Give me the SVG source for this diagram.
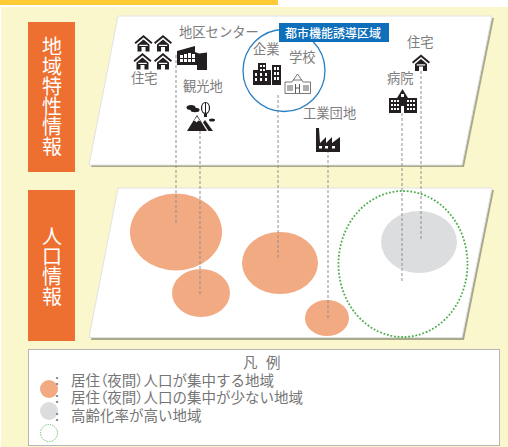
<svg xmlns="http://www.w3.org/2000/svg" width="508" height="447" viewBox="0 0 508 447">
<style>
text{font-family:"Noto Sans CJK JP","Liberation Sans",sans-serif}
.l{font-size:13.300px;fill:#7d7d7d}
.g{font-size:14.500px;fill:#757575}
.p{font-feature-settings:"palt"}
.t{font-size:20px;fill:#fff;writing-mode:vertical-rl}
.e{fill:#f2aa82}
.d{stroke:#8f8f8f;stroke-width:1;stroke-dasharray:3 2;fill:none}
.k{fill:#231f20}
.w{fill:#fff}
</style>
<defs>
<g id="house">
<path class="k" d="M0 7.500L9 0L18 7.500L16.800 9L9 2.500L1.200 9Z"/>
<path class="k" d="M3 9.500L9 4.500L15 9.500V16.500H11V12H7V16.500H3Z"/>
<rect class="w" x="4.800" y="9.800" width="8.400" height="1.200"/>
</g>
</defs>
<rect x="1" y="7" width="507" height="440" fill="#fbf7cd"/>
<rect x="0" y="0" width="278" height="5" fill="#ffca36"/>

<g id="panel-area">
<path d="M120 18H494L464 167H91Z" fill="#a9a98c"/>
<path d="M118 16H492L462 165H89Z" fill="#fff" stroke="#e2e2e2"/>
</g>
<g id="panel-population">
<path d="M120 190H494L464 340H91Z" fill="#a9a98c"/>
<path d="M118 188H492L462 337.500H89Z" fill="#fff" stroke="#e2e2e2"/>
</g>

<g id="title-area">
<rect x="28" y="22" width="47" height="150" fill="#ee7031"/>
<text class="t" x="52" y="36">地域特性情報</text>
</g>
<g id="title-population">
<rect x="28" y="190" width="47" height="151" fill="#ee7031"/>
<text class="t" x="52" y="226">人口情報</text>
</g>

<g id="region-1"><ellipse class="e" cx="176" cy="232" rx="46" ry="38.500"/></g>
<g id="region-2"><ellipse class="e" cx="201" cy="293" rx="29" ry="24"/></g>
<g id="region-3"><ellipse class="e" cx="280" cy="263" rx="38" ry="31"/></g>
<g id="region-4"><ellipse class="e" cx="327" cy="318" rx="22" ry="18"/></g>
<g id="region-gray"><ellipse cx="419" cy="242" rx="38" ry="31" fill="#dcddde"/></g>
<g id="region-green"><ellipse cx="403" cy="264" rx="64.500" ry="73" fill="none" stroke="#4fae4f" stroke-width="1.800" stroke-dasharray="1.800 1.800"/></g>

<g id="connectors">
<path class="d" d="M176 55V223"/>
<path class="d" d="M200 131V296"/>
<path class="d" d="M278 95V258"/>
<path class="d" d="M328 150V318"/>
<path class="d" d="M402 113V282"/>
<path class="d" d="M421 71V239"/>
</g>

<g id="urban-zone">
<circle cx="284" cy="70.500" r="41" fill="none" stroke="#2a7fc1" stroke-width="1.300"/>
<rect x="279" y="23" width="110" height="19" fill="#0f6fba"/>
<text x="285" y="37.500" font-size="12" font-weight="500" fill="#fff">都市機能誘導区域</text>
</g>

<g id="node-housing-left">
<use href="#house" x="134.500" y="35"/><use href="#house" x="154" y="35"/><use href="#house" x="133.500" y="53"/><use href="#house" x="154" y="53"/>
<text class="l" x="131" y="83">住宅</text>
</g>
<g id="node-center">
<text class="l" x="179" y="37">地区センター</text>
<path class="k" d="M177 51L195 46V52L199 53.500L207 52.500V70H197V65H177Z"/>
<g class="w"><rect x="180" y="55" width="3" height="3"/><rect x="184" y="54" width="3" height="4"/><rect x="188" y="53" width="3" height="5"/><rect x="180" y="59" width="3" height="3"/><rect x="184" y="59" width="3" height="3"/><rect x="188" y="59" width="3" height="3"/><rect x="192" y="59" width="3" height="3"/><rect x="192" y="54" width="3" height="4"/></g>
</g>
<g id="node-tourism">
<text class="l" x="183" y="91">観光地</text>
<path class="k" d="M187 131L197 115L207 131Z"/>
<path class="k" d="M205 120L213 131H208.500L203 122.500Z"/>
<path class="w" d="M193.500 121L197 116.500L200.500 121.500L198.500 120.500L196.500 122.500L195 120.800Z"/>
<ellipse class="k" cx="191" cy="107.500" rx="4.500" ry="2.500"/>
<ellipse class="k" cx="195" cy="110" rx="4.500" ry="2.200"/>
<ellipse cx="205.500" cy="108" rx="4" ry="5.500" fill="#fff" stroke="#231f20" stroke-width="1.200"/>
<path d="M205.500 102.500V113.500" stroke="#231f20"/>
<rect class="k" x="204" y="114" width="3" height="3"/>
<ellipse class="k" cx="212" cy="120" rx="3" ry="1.500"/>
</g>
<g id="node-company">
<text class="l" x="253" y="54">企業</text>
<path class="k" d="M253 85V70H258V63H266V70H271V85ZM272 85V65H281V85Z"/>
<g class="w"><rect x="260" y="65" width="2" height="2"/><rect x="263" y="65" width="2" height="2"/><rect x="260" y="69" width="2" height="2"/><rect x="263" y="69" width="2" height="2"/><rect x="255" y="73" width="2" height="3"/><rect x="260" y="73" width="2" height="3"/><rect x="265" y="73" width="2" height="3"/><rect x="255" y="78" width="2" height="3"/><rect x="260" y="78" width="2" height="3"/><rect x="265" y="78" width="2" height="3"/><rect x="274" y="67" width="2" height="3"/><rect x="277" y="67" width="2" height="3"/><rect x="274" y="72" width="2" height="3"/><rect x="277" y="72" width="2" height="3"/><rect x="274" y="77" width="2" height="3"/><rect x="277" y="77" width="2" height="3"/></g>
</g>
<g id="node-school">
<text class="l" x="289" y="62">学校</text>
<path d="M285 93.500V82H292L297.500 74L303 82H310.500V93.500Z" fill="#fff" stroke="#555" stroke-width="0.800"/>
<path d="M293 80H302" stroke="#555" stroke-width="0.800"/>
<path d="M288 85V91M290 85V91M292 85V91M304 85V91M306 85V91M308 85V91M295.500 84V93M299.500 84V93M295.500 88H299.500" stroke="#333" stroke-width="0.800" fill="none"/>
</g>
<g id="node-housing-right">
<text class="l" x="407" y="47">住宅</text>
<use href="#house" x="412" y="54.500"/>
</g>
<g id="node-hospital">
<text class="l" x="387" y="83">病院</text>
<path class="k" d="M389 98H397L402.500 89L408 98H417V113H389Z"/>
<g class="w"><rect x="401" y="94" width="3" height="3"/><rect x="391" y="100" width="2" height="2"/><rect x="394" y="100" width="2" height="2"/><rect x="397" y="100" width="2" height="2"/><rect x="391" y="104" width="2" height="2"/><rect x="394" y="104" width="2" height="2"/><rect x="397" y="104" width="2" height="2"/><rect x="391" y="108" width="2" height="2"/><rect x="394" y="108" width="2" height="2"/><rect x="397" y="108" width="2" height="2"/><rect x="407" y="100" width="2" height="2"/><rect x="410" y="100" width="2" height="2"/><rect x="413" y="100" width="2" height="2"/><rect x="407" y="104" width="2" height="2"/><rect x="410" y="104" width="2" height="2"/><rect x="413" y="104" width="2" height="2"/><rect x="407" y="108" width="2" height="2"/><rect x="410" y="108" width="2" height="2"/><rect x="413" y="108" width="2" height="2"/><rect x="401" y="106" width="3" height="7"/></g>
</g>
<g id="node-industrial">
<text class="l" x="303" y="118">工業団地</text>
<path class="k" d="M316 128H319L320 143L326 137V143L332 137V143L340 137V152H316Z"/>
<g class="w"><rect x="319" y="146" width="3" height="2.500"/><rect x="325" y="146" width="3" height="2.500"/><rect x="332" y="146" width="3" height="2.500"/></g>
</g>

<g id="legend">
<rect x="28.500" y="349.500" width="471" height="96" fill="#fff" stroke="#b5b5b5"/>
<text class="g" x="243" y="368">凡</text><text class="g" x="266" y="368">例</text>
<circle cx="49" cy="389" r="9" fill="#f2aa82"/>
<circle cx="49" cy="411" r="9" fill="#dcddde"/>
<circle cx="49" cy="433" r="8.500" fill="none" stroke="#4fae4f" stroke-width="0.900" stroke-dasharray="1.200 1.200"/>
<text class="g" x="55" y="385">:</text><text class="g" x="55" y="403">:</text><text class="g" x="55" y="421">:</text>
<text class="g" x="71" y="386">居住<tspan class="p">（</tspan>夜間<tspan class="p">）</tspan>人口が集中する地域</text>
<text class="g" x="71" y="403">居住<tspan class="p">（</tspan>夜間<tspan class="p">）</tspan>人口の集中が少ない地域</text>
<text class="g" x="71" y="421">高齢化率が高い地域</text>
</g>
</svg>
